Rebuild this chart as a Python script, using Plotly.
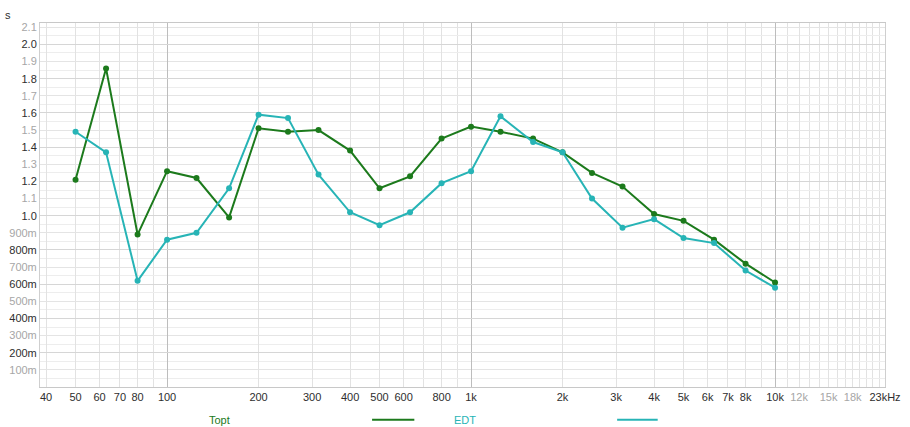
import numpy as np
import plotly.graph_objects as go

# 1/3-octave band centre frequencies (Hz)
freqs = [50, 63, 80, 100, 125, 160, 200, 250, 315, 400, 500, 630, 800,
         1000, 1250, 1600, 2000, 2500, 3150, 4000, 5000, 6300, 8000, 10000]

# Reverberation values in seconds
topt = [1.21, 1.86, 0.89, 1.26, 1.22, 0.99, 1.51, 1.49, 1.50, 1.38, 1.16, 1.23, 1.45,
        1.52, 1.49, 1.45, 1.37, 1.25, 1.17, 1.01, 0.97, 0.86, 0.72, 0.61]
edt = [1.49, 1.37, 0.62, 0.86, 0.90, 1.16, 1.59, 1.57, 1.24, 1.02, 0.945, 1.02, 1.19,
       1.26, 1.58, 1.43, 1.37, 1.10, 0.93, 0.98, 0.87, 0.84, 0.68, 0.58]

# Frequency axis labels
x_tick_vals = [40, 50, 60, 70, 80, 100, 200, 300, 400, 500, 600, 800, 1000, 2000, 3000,
               4000, 5000, 6000, 7000, 8000, 10000, 12000, 15000, 18000, 23000]
x_tick_text = ["40", "50", "60", "70", "80", "100", "200", "300", "400", "500", "600", "800",
               "1k", "2k", "3k", "4k", "5k", "6k", "7k", "8k", "10k", "12k", "15k", "18k", "23kHz"]
x_faint_labels = ["12k", "15k", "18k"]
x_minor_vals = [90, 700, 900, 9000, 11000, 13000, 14000, 16000, 17000,
                19000, 20000, 21000, 22000]
x_decades = [100, 1000, 10000]

# Time axis labels
y_tick_vals = [round(0.1 * i, 1) for i in range(1, 22)]
y_tick_text = ["100m", "200m", "300m", "400m", "500m", "600m", "700m", "800m", "900m",
               "1.0", "1.1", "1.2", "1.3", "1.4", "1.5", "1.6", "1.7", "1.8", "1.9", "2.0", "2.1"]
y_minor_vals = [round(0.05 + 0.1 * i, 2) for i in range(21)]
y_strong_vals = [round(0.2 * i, 1) for i in range(1, 11)]

GREEN = "#1c7a1c"
TEAL = "#27b4b6"
DARK = "#2e2e2e"
FAINT = "#a6a6a6"
FONT = "Liberation Sans, Arial, sans-serif"

x_text = [f'<span style="color:{FAINT}">{t}</span>' if t in x_faint_labels else t
          for t in x_tick_text]
y_text = [t if abs(v / 0.2 - round(v / 0.2)) < 1e-6 else f'<span style="color:{FAINT}">{t}</span>'
          for v, t in zip(y_tick_vals, y_tick_text)]

fig = go.Figure()
fig.add_trace(go.Scatter(x=freqs, y=topt, mode="lines+markers", name="Topt",
                         line=dict(color=GREEN, width=2), marker=dict(size=6, color=GREEN)))
fig.add_trace(go.Scatter(x=freqs, y=edt, mode="lines+markers", name="EDT",
                         line=dict(color=TEAL, width=2), marker=dict(size=6, color=TEAL)))
# empty helper trace that carries the stronger grid lines
fig.add_trace(go.Scatter(x=[None], y=[None], xaxis="x2", yaxis="y2",
                         showlegend=False, hoverinfo="skip"))

x_range = [np.log10(38.2), np.log10(23000)]
y_range = [0, 2.125]

fig.update_layout(
    width=910, height=427,
    margin=dict(l=40, r=25, t=23, b=40, autoexpand=False),
    paper_bgcolor="white", plot_bgcolor="white",
    showlegend=False,
    font=dict(family=FONT, size=11, color=DARK),
    xaxis=dict(type="log", range=x_range, tickmode="array",
               tickvals=x_tick_vals, ticktext=x_text, automargin=False,
               showgrid=True, gridcolor="#e2e2e2", gridwidth=1,
               minor=dict(tickvals=x_minor_vals, showgrid=True, gridcolor="#e2e2e2", ticks=""),
               showline=True, linecolor="#c8c8c8", linewidth=1, mirror=True,
               ticks="", zeroline=False, tickfont=dict(size=11, color=DARK)),
    yaxis=dict(range=y_range, tickmode="array", tickvals=y_tick_vals, ticktext=y_text,
               automargin=False,
               showgrid=True, gridcolor="#e4e4e4", gridwidth=1,
               minor=dict(tickvals=y_minor_vals, showgrid=True, gridcolor="#ededed", ticks=""),
               showline=True, linecolor="#cfcfcf", linewidth=1, mirror=True,
               ticks="", zeroline=False, tickfont=dict(size=11, color=DARK)),
    xaxis2=dict(type="log", range=x_range, overlaying="x", tickmode="array",
                tickvals=x_decades, showticklabels=False, showgrid=True, automargin=False,
                gridcolor="#bdbdbd", zeroline=False, showline=False),
    yaxis2=dict(range=y_range, overlaying="y", tickmode="array", automargin=False,
                tickvals=y_strong_vals, showticklabels=False, showgrid=True,
                gridcolor="#d6d6d6", zeroline=False, showline=False),
)

# unit label above the time axis
fig.add_annotation(x=-0.038, y=1.0, xref="paper", yref="paper", text="s",
                   showarrow=False, xanchor="center", yanchor="bottom",
                   font=dict(size=11, color=DARK))

# legend: name followed by a line sample
legend = [("Topt", GREEN, 0.213, 0.393, 0.443), ("EDT", TEAL, 0.503, 0.683, 0.731)]
for name, color, tx, lx0, lx1 in legend:
    fig.add_annotation(x=tx, y=-0.09, xref="paper", yref="paper", text=name,
                       showarrow=False, xanchor="center", yanchor="middle",
                       font=dict(size=11, color=color))
    fig.add_shape(type="line", xref="paper", yref="paper", x0=lx0, x1=lx1,
                  y0=-0.09, y1=-0.09, line=dict(color=color, width=2))

fig.write_html("out.html")
